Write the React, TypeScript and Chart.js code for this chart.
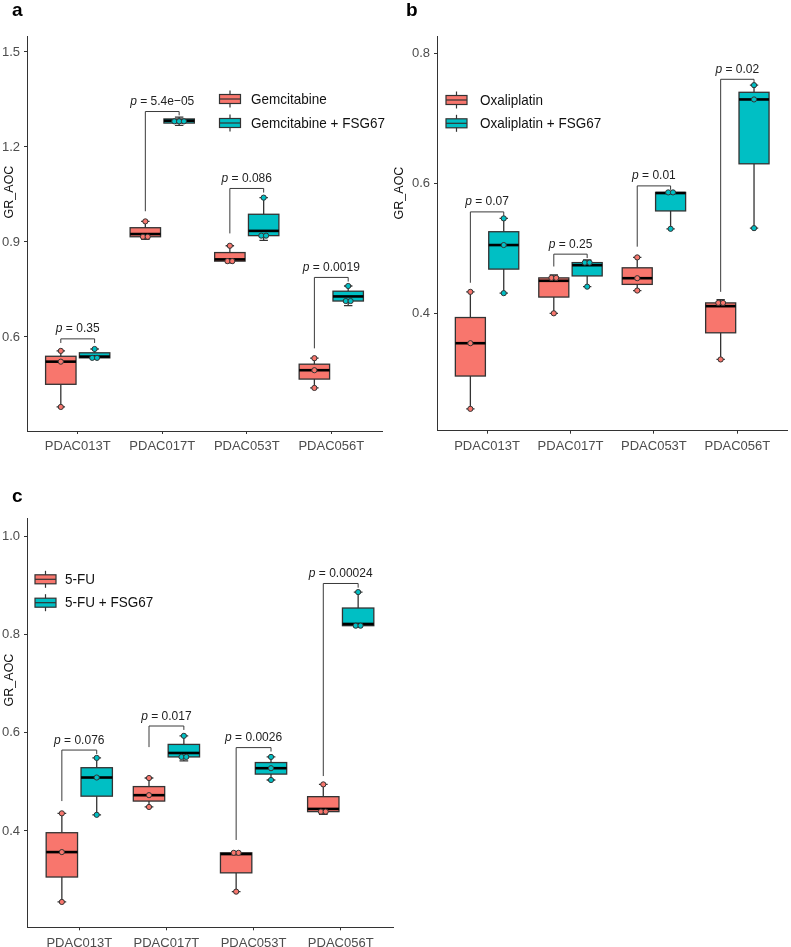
import React, { useEffect, useRef } from "react";
import { Chart, registerables } from "chart.js";
Chart.register(...registerables);

// ---------------- data ----------------
const categories = ["PDAC013T", "PDAC017T", "PDAC053T", "PDAC056T"];

// panel a : Gemcitabine
const gemSeries = ["Gemcitabine", "Gemcitabine + FSG67"];
const gemDrug = [[0.379, 0.522, 0.556], [0.908, 0.925, 0.965], [0.834, 0.845, 0.888], [0.439, 0.495, 0.533]];
const gemCombo = [[0.530, 0.538, 0.562], [1.268, 1.283, 1.294], [0.905, 0.935, 1.040], [0.699, 0.728, 0.761]];
const gemP = ["0.35", "5.4e\u221205", "0.086", "0.0019"];
const gemBracket = [0.594, 1.312, 1.069, 0.788];
const gemLegDrug = [0.581, 0.997, 0.927, 0.564];
const gemLegCombo = [0.581, 1.300, 1.056, 0.775];
const gemTicks = [0.6, 0.9, 1.2, 1.5];

// panel b : Oxaliplatin
const oxSeries = ["Oxaliplatin", "Oxaliplatin + FSG67"];
const oxDrug = [[0.253, 0.354, 0.433], [0.400, 0.450, 0.459], [0.435, 0.454, 0.486], [0.329, 0.411, 0.421]];
const oxCombo = [[0.431, 0.505, 0.546], [0.441, 0.474, 0.482], [0.530, 0.585, 0.587], [0.531, 0.729, 0.751]];
const oxP = ["0.07", "0.25", "0.01", "0.02"];
const oxBracket = [0.556, 0.491, 0.596, 0.760];
const oxLegDrug = [0.447, 0.472, 0.5025, 0.433];
const oxLegCombo = [0.549, 0.485, 0.590, 0.754];
const oxTicks = [0.4, 0.6, 0.8];

// panel c : 5-FU
const fuSeries = ["5-FU", "5-FU + FSG67"];
const fuDrug = [[0.2554, 0.357, 0.436], [0.449, 0.473, 0.508], [0.2764, 0.353, 0.358], [0.434, 0.445, 0.495]];
const fuCombo = [[0.433, 0.509, 0.549], [0.543, 0.559, 0.594], [0.504, 0.528, 0.551], [0.815, 0.822, 0.887]];
const fuP = ["0.076", "0.017", "0.0026", "0.00024"];
const fuBracket = [0.565, 0.614, 0.570, 0.9045];
const fuLegDrug = [0.461, 0.571, 0.3817, 0.512];
const fuLegCombo = [0.557, 0.606, 0.562, 0.896];
const fuTicks = [0.4, 0.6, 0.8, 1.0];

const yTitle = "GR_AOC";

// ---------------- styles ----------------
const FONT = "'Liberation Sans', Arial, Helvetica, sans-serif";
const COLORS = ["#F8766D", "#00BFC4"];
const OUTLINE = "#333333";
const AXIS = "#333333";
const TICK_TEXT = "#4D4D4D";
const DODGE = 0.2;
const BOXW = 0.36;
const CAPW = 0.1;
const DOT_R = 2.6;
const DOT_SPACING = 4.8;
const TEXT_STRETCH = 1.12;

type Panel = {
  letter: string; letterX: number; letterY: number;
  left: number; top: number; width: number; height: number;
  plotLeft: number; plotRight: number; plotTop: number; plotBottom: number;
  yMin: number; yMax: number; yTicks: number[];
  series: string[]; drug: number[][]; combo: number[][];
  pText: string[]; bracket: number[]; legDrug: number[]; legCombo: number[];
  legendX: number; legendY: number[]; legendTextX: number;
  titleX: number; titleY: number;
};

const panels: Panel[] = [
  {
    letter: "a", letterX: 12, letterY: 16,
    left: 0, top: 0, width: 392, height: 465,
    plotLeft: 27, plotRight: 382, plotTop: 36, plotBottom: 431,
    yMin: 0.303, yMax: 1.5505, yTicks: gemTicks,
    series: gemSeries, drug: gemDrug, combo: gemCombo,
    pText: gemP, bracket: gemBracket, legDrug: gemLegDrug, legCombo: gemLegCombo,
    legendX: 230, legendY: [99, 123], legendTextX: 251,
    titleX: 10, titleY: 192,
  },
  {
    letter: "b", letterX: 406, letterY: 16,
    left: 392, top: 0, width: 399, height: 465,
    plotLeft: 437, plotRight: 789.5, plotTop: 36, plotBottom: 430.7,
    yMin: 0.2194, yMax: 0.8266, yTicks: oxTicks,
    series: oxSeries, drug: oxDrug, combo: oxCombo,
    pText: oxP, bracket: oxBracket, legDrug: oxLegDrug, legCombo: oxLegCombo,
    legendX: 456.5, legendY: [100, 123.3], legendTextX: 480,
    titleX: 400, titleY: 193,
  },
  {
    letter: "c", letterX: 12, letterY: 502,
    left: 0, top: 470, width: 400, height: 477,
    plotLeft: 27, plotRight: 393, plotTop: 518, plotBottom: 927.3,
    yMin: 0.2037, yMax: 1.038, yTicks: fuTicks,
    series: fuSeries, drug: fuDrug, combo: fuCombo,
    pText: fuP, bracket: fuBracket, legDrug: fuLegDrug, legCombo: fuLegCombo,
    legendX: 45.5, legendY: [579.3, 602.7], legendTextX: 65,
    titleX: 10, titleY: 680,
  },
];

// ---------------- helpers ----------------
function quantile(sorted: number[], q: number) {
  const h = (sorted.length - 1) * q;
  const lo = Math.floor(h);
  const hi = Math.min(lo + 1, sorted.length - 1);
  return sorted[lo] + (h - lo) * (sorted[hi] - sorted[lo]);
}

function boxStats(vals: number[]) {
  const s = [...vals].sort((a, b) => a - b);
  const q1 = quantile(s, 0.25), med = quantile(s, 0.5), q3 = quantile(s, 0.75);
  const iqr = q3 - q1;
  const inside = s.filter((v) => v >= q1 - 1.5 * iqr && v <= q3 + 1.5 * iqr);
  return { q1, med, q3, lo: inside[0], hi: inside[inside.length - 1] };
}

// dot-density binning like geom_dotplot(binaxis = "y", stackdir = "center")
function binDots(vals: number[], bw: number) {
  const s = [...vals].sort((a, b) => a - b);
  const bins: { center: number; n: number }[] = [];
  let i = 0;
  while (i < s.length) {
    let j = i;
    while (j + 1 < s.length && s[j + 1] < s[i] + bw) j++;
    bins.push({ center: (s[i] + s[j]) / 2, n: j - i + 1 });
    i = j + 1;
  }
  return bins;
}

function stretchedText(ctx: CanvasRenderingContext2D, text: string, x: number, y: number) {
  ctx.save();
  ctx.translate(x, y);
  ctx.scale(1, TEXT_STRETCH);
  ctx.fillText(text, 0, 0);
  ctx.restore();
}

function PanelChart({ p }: { p: Panel }) {
  const ref = useRef<HTMLCanvasElement>(null);
  useEffect(() => {
    const canvas = ref.current!;
    const all = [...p.drug.flat(), ...p.combo.flat()];
    const bw = (Math.max(...all) - Math.min(...all)) / 30;
    const pxPerX = (p.plotRight - p.plotLeft) / 4.2;
    const dx = DOT_SPACING / pxPerX;
    const makePts = (groups: number[][], off: number) => {
      const pts: { x: number; y: number }[] = [];
      groups.forEach((vals, i) => {
        binDots(vals, bw).forEach((b) => {
          for (let k = 0; k < b.n; k++) pts.push({ x: i + off + (k - (b.n - 1) / 2) * dx, y: b.center });
        });
      });
      return pts;
    };

    const layer = {
      id: "boxLayer",
      beforeDatasetsDraw(chart: any) {
        const ctx = chart.ctx as CanvasRenderingContext2D;
        const xs = chart.scales.x, ys = chart.scales.y;
        const X = (v: number) => xs.getPixelForValue(v);
        const Y = (v: number) => ys.getPixelForValue(v);
        ctx.save();
        // brackets
        ctx.strokeStyle = "#3a3a3a";
        ctx.lineWidth = 1;
        p.bracket.forEach((by, i) => {
          const xl = X(i - DODGE), xr = X(i + DODGE);
          ctx.beginPath();
          ctx.moveTo(xl, Y(p.legDrug[i]));
          ctx.lineTo(xl, Y(by));
          ctx.lineTo(xr, Y(by));
          ctx.lineTo(xr, Y(p.legCombo[i]));
          ctx.stroke();
        });
        // boxes
        [p.drug, p.combo].forEach((groups, s) => {
          groups.forEach((vals, i) => {
            const st = boxStats(vals);
            const cx = i + (s === 0 ? -DODGE : DODGE);
            ctx.strokeStyle = OUTLINE;
            ctx.lineWidth = 1.3;
            ctx.beginPath();
            ctx.moveTo(X(cx), Y(st.hi)); ctx.lineTo(X(cx), Y(st.q3));
            ctx.moveTo(X(cx), Y(st.q1)); ctx.lineTo(X(cx), Y(st.lo));
            ctx.moveTo(X(cx - CAPW / 2), Y(st.hi)); ctx.lineTo(X(cx + CAPW / 2), Y(st.hi));
            ctx.moveTo(X(cx - CAPW / 2), Y(st.lo)); ctx.lineTo(X(cx + CAPW / 2), Y(st.lo));
            ctx.stroke();
            const l = X(cx - BOXW / 2), r = X(cx + BOXW / 2), t = Y(st.q3), b = Y(st.q1);
            ctx.fillStyle = COLORS[s];
            ctx.fillRect(l, t, r - l, b - t);
            ctx.strokeRect(l, t, r - l, b - t);
            ctx.strokeStyle = "#000";
            ctx.lineWidth = 2.6;
            ctx.beginPath();
            ctx.moveTo(l, Y(st.med)); ctx.lineTo(r, Y(st.med));
            ctx.stroke();
          });
        });
        ctx.restore();
      },
      afterDatasetsDraw(chart: any) {
        const ctx = chart.ctx as CanvasRenderingContext2D;
        const xs = chart.scales.x, ys = chart.scales.y;
        ctx.save();
        ctx.fillStyle = "#222";
        ctx.textBaseline = "alphabetic";
        ctx.textAlign = "left";
        p.pText.forEach((txt, i) => {
          const cx = (xs.getPixelForValue(i - DODGE) + xs.getPixelForValue(i + DODGE)) / 2;
          const y = ys.getPixelForValue(p.bracket[i]) - 6.5;
          ctx.font = `italic 12px ${FONT}`;
          const w1 = ctx.measureText("p").width;
          ctx.font = `12px ${FONT}`;
          const rest = " = " + txt;
          const w2 = ctx.measureText(rest).width;
          const x0 = cx - (w1 + w2) / 2;
          ctx.font = `italic 12px ${FONT}`;
          stretchedText(ctx, "p", x0, y);
          ctx.font = `12px ${FONT}`;
          stretchedText(ctx, rest, x0 + w1, y);
        });
        ctx.restore();
      },
      afterDraw(chart: any) {
        const ctx = chart.ctx as CanvasRenderingContext2D;
        ctx.save();
        // legend
        p.series.forEach((name, k) => {
          const cx = p.legendX - p.left;
          const cy = p.legendY[k] - p.top;
          const w = 21, h = 9;
          ctx.strokeStyle = OUTLINE;
          ctx.lineWidth = 1.2;
          ctx.beginPath();
          ctx.moveTo(cx, cy - 8.5); ctx.lineTo(cx, cy + 8.5);
          ctx.stroke();
          ctx.fillStyle = COLORS[k];
          ctx.fillRect(cx - w / 2, cy - h / 2, w, h);
          ctx.strokeRect(cx - w / 2, cy - h / 2, w, h);
          ctx.beginPath();
          ctx.moveTo(cx - w / 2, cy); ctx.lineTo(cx + w / 2, cy);
          ctx.stroke();
          ctx.fillStyle = "#111";
          ctx.font = `13.5px ${FONT}`;
          ctx.textBaseline = "middle";
          ctx.textAlign = "left";
          stretchedText(ctx, name, p.legendTextX - p.left, cy + 0.5);
        });
        // y title
        ctx.save();
        ctx.translate(p.titleX - p.left, p.titleY - p.top);
        ctx.rotate(-Math.PI / 2);
        ctx.fillStyle = "#111";
        ctx.font = `12.5px ${FONT}`;
        ctx.textAlign = "center";
        ctx.textBaseline = "middle";
        ctx.fillText(yTitle, 0, 0);
        ctx.restore();
        // panel letter
        ctx.fillStyle = "#000";
        ctx.font = `bold 19px ${FONT}`;
        ctx.textAlign = "left";
        ctx.textBaseline = "alphabetic";
        ctx.fillText(p.letter, p.letterX - p.left, p.letterY - p.top);
        ctx.restore();
      },
    };

    const tickFont = { family: FONT, size: 13 };
    const chart = new Chart(canvas, {
      type: "scatter",
      data: {
        datasets: [0, 1].map((s) => ({
          label: p.series[s],
          data: makePts(s === 0 ? p.drug : p.combo, s === 0 ? -DODGE : DODGE),
          backgroundColor: COLORS[s],
          borderColor: OUTLINE,
          borderWidth: 1,
          pointRadius: DOT_R,
          pointHoverRadius: DOT_R,
          showLine: false,
        })),
      },
      options: {
        responsive: false,
        animation: false,
        events: [],
        layout: {
          padding: { left: 0, top: p.plotTop - p.top, right: p.left + p.width - p.plotRight, bottom: 0 },
        },
        plugins: { legend: { display: false }, tooltip: { enabled: false }, title: { display: false } },
        scales: {
          x: {
            type: "linear",
            min: -0.6,
            max: 3.6,
            afterBuildTicks: (s: any) => { s.ticks = categories.map((_, i) => ({ value: i })); },
            afterFit: (s: any) => { s.height = p.top + p.height - p.plotBottom; },
            ticks: {
              autoSkip: false, maxRotation: 0, minRotation: 0,
              color: TICK_TEXT, font: tickFont, padding: 5,
              callback: (v: any) => categories[Math.round(Number(v))] ?? "",
            },
            grid: { display: true, drawOnChartArea: false, drawTicks: true, tickLength: 3, color: AXIS, lineWidth: 1 },
            border: { display: true, color: AXIS, width: 1 },
          },
          y: {
            type: "linear",
            min: p.yMin,
            max: p.yMax,
            afterBuildTicks: (s: any) => { s.ticks = p.yTicks.map((v) => ({ value: v })); },
            afterFit: (s: any) => { s.width = p.plotLeft - p.left; },
            ticks: {
              color: TICK_TEXT, font: tickFont, padding: 4,
              callback: (v: any) => Number(v).toFixed(1),
            },
            grid: { display: true, drawOnChartArea: false, drawTicks: true, tickLength: 3, color: AXIS, lineWidth: 1 },
            border: { display: true, color: AXIS, width: 1 },
          },
        },
      } as any,
      plugins: [layer],
    });
    return () => chart.destroy();
  }, [p]);
  return (
    <canvas
      ref={ref}
      width={p.width}
      height={p.height}
      style={{ position: "absolute", left: p.left, top: p.top, width: p.width, height: p.height }}
    />
  );
}

export default function App() {
  return (
    <div style={{ position: "absolute", left: 0, top: 0, width: 791, height: 947, background: "#fff", overflow: "hidden" }}>
      {panels.map((p) => (
        <PanelChart key={p.letter} p={p} />
      ))}
    </div>
  );
}
